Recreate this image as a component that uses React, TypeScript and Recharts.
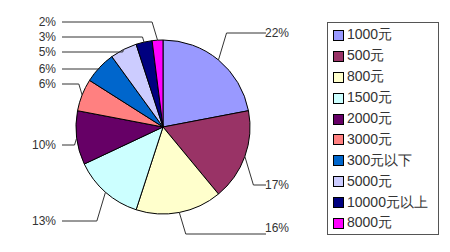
import { Legend, Pie, PieChart, Cell } from "recharts";

const categories = [
  "1000元",
  "500元",
  "800元",
  "1500元",
  "2000元",
  "3000元",
  "300元以下",
  "5000元",
  "10000元以上",
  "8000元",
];
const shares = [22, 17, 16, 13, 10, 6, 6, 5, 3, 2];
const colors = [
  "#9999FF",
  "#993366",
  "#FFFFCC",
  "#CCFFFF",
  "#660066",
  "#FF8080",
  "#0066CC",
  "#CCCCFF",
  "#000080",
  "#FF00FF",
];

const data = categories.map((name, i) => ({ name, value: shares[i] }));

// where each leader line ends (y) and where its text sits (y), per slice
const labelLineY = [33, 185, 234, 221, 145, 84, 69, 52, 37, 22];
const labelTextY = [33, 185, 228, 221, 145, 84, 69, 52, 37, 22];
const RAD = Math.PI / 180;
const FONT = "'Liberation Sans', Arial, sans-serif";

const renderLabel = (props: any) => {
  const { cx, cy, midAngle, outerRadius, percent, index } = props;
  const cos = Math.cos(-midAngle * RAD);
  const sin = Math.sin(-midAngle * RAD);
  const ax = cx + outerRadius * cos;
  const ay = cy + outerRadius * sin;
  const ly = labelLineY[index];
  const ty = labelTextY[index];
  const right = cos >= 0;
  const ex = ax + (right ? 1 : -1) * Math.abs(ly - ay) * 0.3;
  const endX = right ? 266 : 62;
  const textX = right ? 265 : 56;
  return (
    <g>
      <polyline
        points={`${ax},${ay} ${ex},${ly} ${endX},${ly}`}
        fill="none"
        stroke="#333"
        strokeWidth={1}
      />
      <text
        x={textX}
        y={ty}
        textAnchor={right ? "start" : "end"}
        dominantBaseline="central"
        fontSize={12}
        fontFamily={FONT}
        fill="#333"
      >
        {`${Math.round(percent * 100)}%`}
      </text>
    </g>
  );
};

const renderLegend = (props: any) => {
  // keep the legend in data order, not the library's sorted order
  const payload = [...(props.payload || [])].sort(
    (a: any, b: any) => categories.indexOf(a.value) - categories.indexOf(b.value)
  );
  return (
    <div
      style={{
        width: 112,
        height: 213,
        border: "1.5px solid #555",
        background: "#fff",
        fontFamily: FONT,
        fontSize: 14,
        color: "#333",
        boxSizing: "border-box",
        paddingTop: 2,
      }}
    >
      {payload.map((p: any) => (
        <div
          key={p.value}
          style={{ display: "flex", alignItems: "center", height: 20.9, paddingLeft: 5 }}
        >
          <span
            style={{
              display: "inline-block",
              width: 9,
              height: 9,
              background: p.color,
              border: "1px solid #000",
              marginRight: 3,
            }}
          />
          <span style={{ whiteSpace: "nowrap" }}>{p.value}</span>
        </div>
      ))}
    </div>
  );
};

export default function App() {
  return (
    <div
      style={{
        position: "absolute",
        left: 0,
        top: 0,
        width: 450,
        height: 252,
        background: "#fff",
      }}
    >
      <PieChart width={450} height={252} margin={{ top: 0, right: 0, bottom: 0, left: 0 }}>
        <Pie
          data={data}
          dataKey="value"
          nameKey="name"
          cx={163}
          cy={127}
          outerRadius={87}
          startAngle={90}
          endAngle={-270}
          stroke="#000"
          strokeWidth={1}
          label={renderLabel}
          labelLine={false}
          isAnimationActive={false}
        >
          {data.map((d, i) => (
            <Cell key={d.name} fill={colors[i]} />
          ))}
        </Pie>
        <Legend
          content={renderLegend}
          layout="vertical"
          wrapperStyle={{ position: "absolute", left: 327, top: 22, width: 112 }}
        />
      </PieChart>
    </div>
  );
}
